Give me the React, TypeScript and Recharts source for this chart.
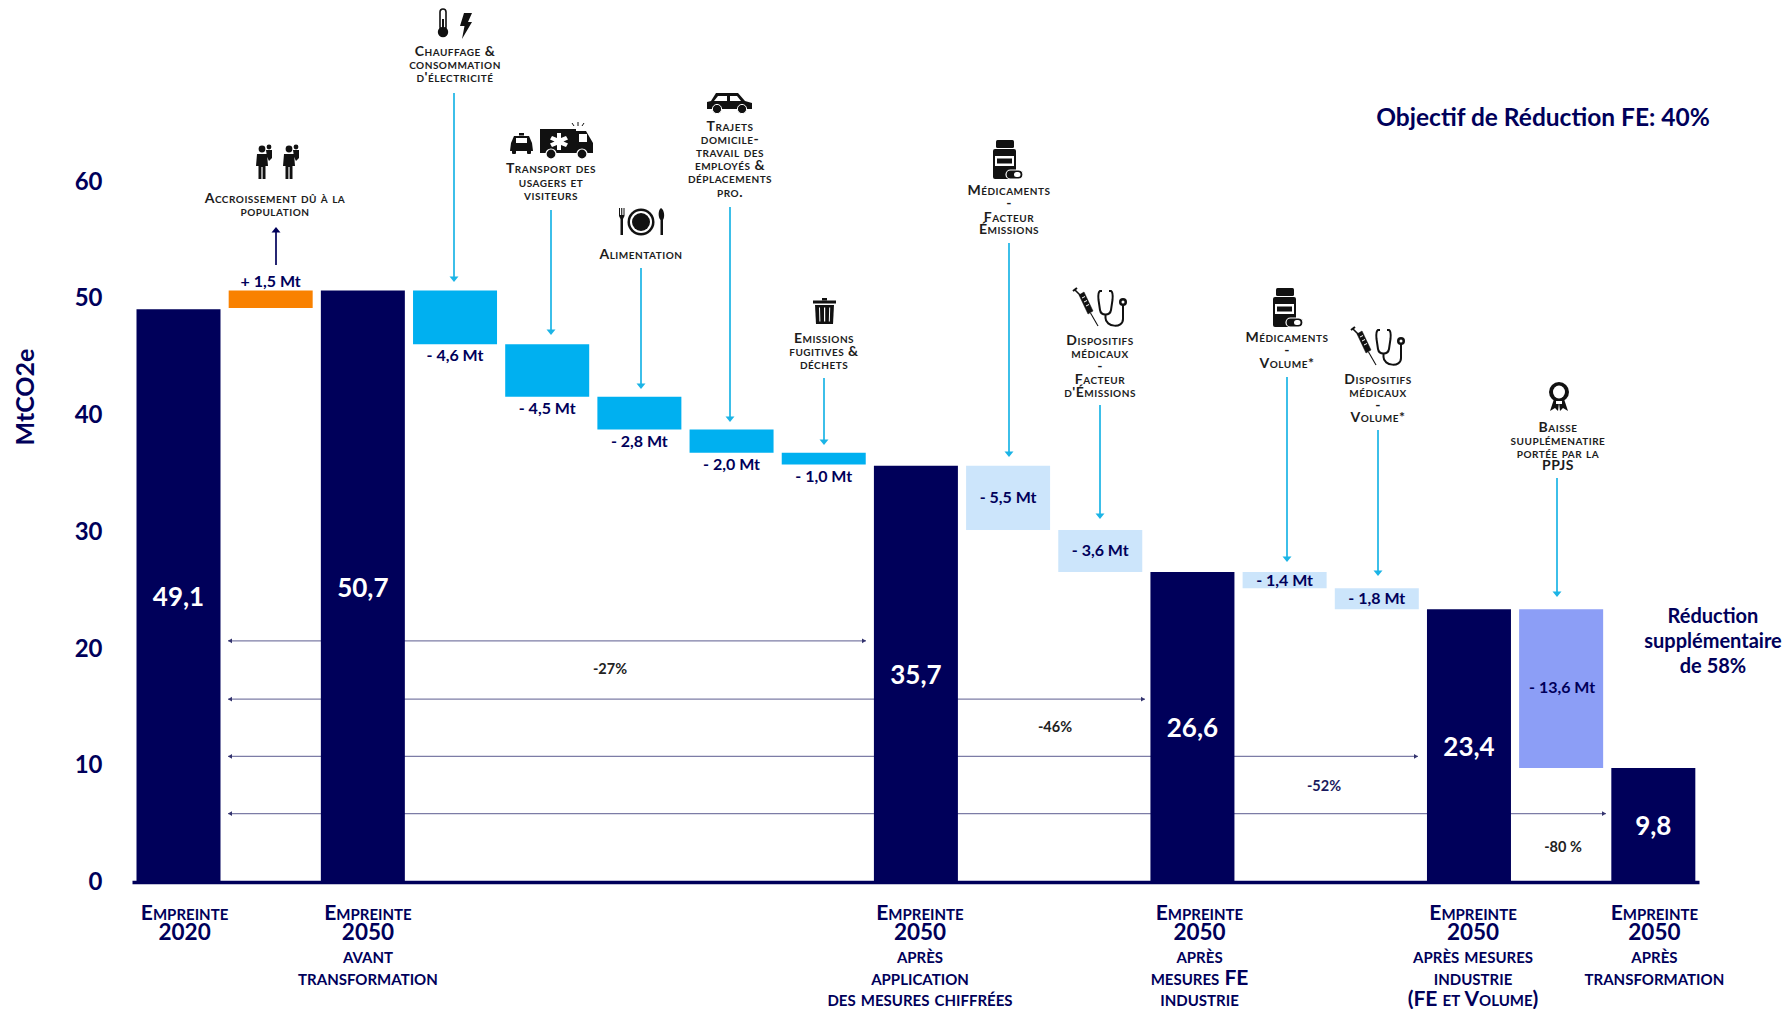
import React from "react";
import { BarChart, Bar, XAxis, YAxis, Cell, LabelList } from "recharts";

// ---------- data ----------
const categories = ["e2020","pop","e2050","chauffage","transport","alim","trajets","dechets","mesures","medFE","dispFE","fe","medVol","dispVol","indus","ppjs","final"];
const barBases = [0, 49.2, 0, 46.1, 41.6, 38.8, 36.8, 35.8, 0, 30.2, 26.6, 0, 25.2, 23.4, 0, 9.8, 0];
const barValues = [49.1, 1.5, 50.7, 4.6, 4.5, 2.8, 2.0, 1.0, 35.7, 5.5, 3.6, 26.6, 1.4, 1.8, 23.4, 13.6, 9.8];
const barLabels = ["49,1","+ 1,5 Mt","50,7","- 4,6 Mt","- 4,5 Mt","- 2,8 Mt","- 2,0 Mt","- 1,0 Mt","35,7","- 5,5 Mt","- 3,6 Mt","26,6","- 1,4 Mt","- 1,8 Mt","23,4","- 13,6 Mt","9,8"];
const barKinds = ["total","up","total","down","down","down","down","down","total","fe","fe","total","fe","fe","total","ppjs","total"];
const yTicks = [0, 10, 20, 30, 40, 50, 60];
const xLabelLines: string[][] = [
  ["Empreinte","2020"],[],["Empreinte","2050","avant","transformation"],[],[],[],[],[],
  ["Empreinte","2050","après","application","des mesures chiffrées"],[],[],
  ["Empreinte","2050","après","mesures FE","industrie"],[],[],
  ["Empreinte","2050","après mesures","industrie","(FE et Volume)"],[],
  ["Empreinte","2050","après","transformation"],
];
const xLabelShift = [6,0,5,0,0,0,0,0,4,0,0,7,0,0,4,0,1];
const spanLabels = ["-27%","-46%","-52%","-80 %"];
const spanLevels = [20.7, 15.7, 10.8, 5.9];
const calloutTexts: string[][] = [
  ["Accroissement dû à la","population"],
  ["Chauffage &","consommation","d'électricité"],
  ["Transport des","usagers et","visiteurs"],
  ["Alimentation"],
  ["Trajets","domicile-","travail des","employés &","déplacements","pro."],
  ["Emissions","fugitives &","déchets"],
  ["Médicaments","-","Facteur","Émissions"],
  ["Dispositifs","médicaux","-","Facteur","d'Émissions"],
  ["Médicaments","-","Volume*"],
  ["Dispositifs","médicaux","-","Volume*"],
  ["Baisse","suuplémenatire","portée par la","PPJS"],
];
const chartTitle = "Objectif de Réduction FE: 40%";
const sideNote = ["Réduction","supplémentaire","de 58%"];
const yTitle = "MtCO2e";

const tableData = categories.map((key, i) => ({ key, base: barBases[i], value: barValues[i], label: barLabels[i] }));

// ---------- style ----------
const NAVY = "#00005A";
const FONT = "Lato, Carlito, sans-serif";
const kindColor: Record<string, string> = { total: NAVY, up: "#F98100", down: "#00B0F0", fe: "#CCE5FB", ppjs: "#8C9EF6" };
const W = 1788, H = 1009, LEFT = 132.5, RIGHT = 1699.5, TOP = 182, BOTTOM = 882.5;
const py = (v: number) => BOTTOM - (v / 60) * (BOTTOM - TOP);

// callout layout: text centre x, text line y's, arrow x, arrow y start/end
const calloutLayout = [
  { x: 275, ys: [198, 211], ax: 276, a0: 265, a1: 227, color: NAVY },
  { x: 455, ys: [51, 64, 77], ax: 454, a0: 93, a1: 282 },
  { x: 551, ys: [168, 182, 195], ax: 551, a0: 210, a1: 335 },
  { x: 641, ys: [254], ax: 641, a0: 268, a1: 389 },
  { x: 730, ys: [126, 139, 152, 165, 178, 192], ax: 730, a0: 207, a1: 422 },
  { x: 824, ys: [338, 351, 364], ax: 824, a0: 378, a1: 445 },
  { x: 1009, ys: [190, 203, 217, 229], ax: 1009, a0: 243, a1: 457 },
  { x: 1100, ys: [340, 353, 366, 379, 392], ax: 1100, a0: 405, a1: 519 },
  { x: 1287, ys: [337, 350, 363], ax: 1287, a0: 377, a1: 562 },
  { x: 1378, ys: [379, 392, 405, 417], ax: 1378, a0: 430, a1: 576 },
  { x: 1558, ys: [427, 440, 453, 465], ax: 1557, a0: 478, a1: 597 },
];
const spanLayout = [
  { x0: 228, x1: 866, lx: 610, ly: 668 },
  { x0: 228, x1: 1145, lx: 1055, ly: 726 },
  { x0: 228, x1: 1418, lx: 1324, ly: 785 },
  { x0: 228, x1: 1606, lx: 1563, ly: 846 },
];

// ---------- icons ----------
const K = "#111";
const Person = ({ x, y, flip }: any) => (
  <g transform={`translate(${x},${y}) scale(${flip ? -1 : 1},1)`} fill={K}>
    <circle cx={0} cy={5} r={3.4} />
    <path d="M-5 10 L5 10 L6 22 L3.5 22 L3.5 35 L0.6 35 L0.6 23 L-0.6 23 L-0.6 35 L-3.5 35 L-3.5 22 L-6 22 Z" />
    <circle cx={7} cy={3} r={2.4} />
    <path d="M4 6 L10 6 L10 14 L7 17 L5 13 Z" />
  </g>
);
const Thermo = ({ x, y }: any) => (
  <g transform={`translate(${x},${y})`}>
    <rect x={3} y={0} width={6} height={21} rx={3} fill="#fff" stroke={K} strokeWidth={1.6} />
    <circle cx={6} cy={23} r={5.2} fill={K} />
    <rect x={5} y={10} width={2} height={12} fill={K} />
  </g>
);
const Bolt = ({ x, y }: any) => <path transform={`translate(${x},${y})`} d="M5 0 L13 0 L9 9 L13 9 L3 26 L5.5 13 L1 13 Z" fill={K} />;
const Taxi = ({ x, y }: any) => (
  <g transform={`translate(${x},${y})`} fill={K}>
    <rect x={9} y={0} width={5} height={2.5} />
    <path d="M4 3 L19 3 L22 10 L23 18 L0 18 L1 10 Z" />
    <rect x={6} y={5} width={11} height={5} fill="#fff" />
    <rect x={2} y={17} width={4} height={4} rx={1} />
    <rect x={17} y={17} width={4} height={4} rx={1} />
  </g>
);
const Ambulance = ({ x, y }: any) => (
  <g transform={`translate(${x},${y})`} fill={K}>
    <path d="M0 8 L36 8 L36 10 L46 10 L53 22 L53 32 L0 32 Z" />
    <rect x={39} y={13} width={8} height={8} fill="#fff" />
    <path d="M17 12 L21 12 L21 17 L26 15 L28 18.5 L23.5 20.5 L28 22.5 L26 26 L21 24 L21 29 L17 29 L17 24 L12 26 L10 22.5 L14.5 20.5 L10 18.5 L12 15 L17 17 Z" fill="#fff" />
    <circle cx={11} cy={33} r={5} stroke="#fff" strokeWidth={1.2} />
    <circle cx={42} cy={33} r={5} stroke="#fff" strokeWidth={1.2} />
    <path d="M38 5 L38 1 M42 5 L44 2 M34 5 L32 2" stroke={K} strokeWidth={1} />
  </g>
);
const Plate = ({ x, y }: any) => (
  <g transform={`translate(${x},${y})`}>
    <circle cx={23} cy={14} r={13.5} fill={K} />
    <circle cx={23} cy={14} r={11} fill="#fff" />
    <circle cx={23} cy={14} r={9} fill={K} />
    <path d="M1 0 L1 8 L2.5 11 L2.5 27 L5 27 L5 11 L6.5 8 L6.5 0 L5.5 0 L5.5 7 L4.3 7 L4.3 0 L3.2 0 L3.2 7 L2 7 L2 0 Z" fill={K} />
    <path d="M43 0 C46.5 2 47 9 45 12 L45 27 L42.5 27 L42.5 12 C40 9 40 2 43 0 Z" fill={K} />
  </g>
);
const Car = ({ x, y }: any) => (
  <g transform={`translate(${x},${y})`} fill={K}>
    <path d="M9 0 L31 0 L38 8 L45 10 L45 16 L0 16 L0 9 L4 8 Z" />
    <path d="M11 3 L20 3 L20 8 L7 8 Z M23 3 L30 3 L34 8 L23 8 Z" fill="#fff" />
    <circle cx={10} cy={16} r={4.6} stroke="#fff" strokeWidth={1} />
    <circle cx={35} cy={16} r={4.6} stroke="#fff" strokeWidth={1} />
  </g>
);
const Trash = ({ x, y }: any) => (
  <g transform={`translate(${x},${y})`} fill={K}>
    <rect x={9} y={0} width={5} height={2.5} />
    <rect x={0} y={2.5} width={23} height={3} />
    <path d="M2 7 L21 7 L20 26 L3 26 Z" />
    <path d="M6 9.5 L7 9.5 L7.4 23.5 L6.4 23.5 Z M11 9.5 L12.2 9.5 L12.2 23.5 L11 23.5 Z M16.2 9.5 L17.2 9.5 L16.8 23.5 L15.8 23.5 Z" fill="#fff" />
  </g>
);
const Bottle = ({ x, y }: any) => (
  <g transform={`translate(${x},${y})`} fill={K}>
    <rect x={3} y={0} width={18} height={8} rx={1.5} />
    <rect x={0} y={9} width={23} height={30} rx={2} />
    <rect x={2} y={16} width={19} height={10} fill="#fff" />
    <rect x={4} y={18.5} width={15} height={5} fill={K} />
    <rect x={13} y={30} width={17} height={9} rx={4.5} fill={K} stroke="#fff" strokeWidth={1.2} />
    <rect x={21} y={32} width={6.5} height={5} rx={2.5} fill="#fff" />
  </g>
);
const Medical = ({ x, y }: any) => (
  <g transform={`translate(${x},${y})`}>
    <g fill={K} stroke={K}>
      <path d="M0 4 L4 1" strokeWidth={2} />
      <path d="M2 3 L9 10" strokeWidth={1.6} />
      <path d="M6 8 L11 5 L20 24 L15 27 Z" strokeWidth={0.5} />
      <path d="M17.5 26 L25 39" strokeWidth={1.1} />
    </g>
    <path d="M9 11 L12 9.5 M11 15 L14 13.5 M13 19 L16 17.5" stroke="#fff" strokeWidth={1} />
    <g fill="none" stroke={K} strokeWidth={2}>
      <path d="M29 4 L27 4 C25 5 25 8 25.5 13 L27 23 C28 29 37 29 38 23 L39.5 13 C40 8 40 5 38 4 L36 4" />
      <path d="M32.5 27 L32.5 31 C32.5 40 50 42 50 32 L50 18" />
    </g>
    <circle cx={50} cy={15} r={4} fill={K} />
    <circle cx={50} cy={15} r={1.5} fill="#fff" />
  </g>
);
const Ribbon = ({ x, y }: any) => (
  <g transform={`translate(${x},${y})`}>
    <path d="M7 17 L3 29 L8 26 L11 29 L12 21 L13 29 L16 26 L21 29 L17 17 Z" fill={K} />
    <ellipse cx={12} cy={10} rx={10} ry={10} fill={K} />
    <ellipse cx={12} cy={10} rx={6} ry={6.5} fill="#fff" />
    <rect x={9} y={19} width={6} height={3} fill="#fff" />
  </g>
);

// ---------- helpers ----------
const sc: React.CSSProperties = { fontVariant: "small-caps" };
const Arrow = ({ x, y0, y1, color = "#1BB4E6" }: any) => {
  const dir = y1 > y0 ? 1 : -1;
  return (
    <g>
      <line x1={x} x2={x} y1={y0} y2={y1 - dir * 4} stroke={color} strokeWidth={1.7} />
      <polygon points={`${x - 4.5},${y1 - dir * 5.5} ${x + 4.5},${y1 - dir * 5.5} ${x},${y1}`} fill={color} />
    </g>
  );
};

const XTick = ({ x, y, payload, index }: any) => {
  const i = payload?.index ?? index;
  const lines = xLabelLines[i] || [];
  const cx = x + xLabelShift[i];
  const ys = [911.5, 931.5, 954.5, 976.5, 997.5];
  return (
    <g fontFamily={FONT} fontWeight={700} fill={NAVY} textAnchor="middle">
      {lines.map((t, k) => (
        <text key={k} x={cx} y={ys[k]} dominantBaseline="central" fontSize={k === 1 ? 22.5 : 21} style={k === 1 ? undefined : sc}>{t}</text>
      ))}
    </g>
  );
};

const BarLabel = ({ x, y, width, height, index, value }: any) => {
  const kind = barKinds[index];
  const cx = x + width / 2;
  if (kind === "total") return <text x={cx} y={y + height / 2} textAnchor="middle" dominantBaseline="central" fontFamily={FONT} fontWeight={700} fontSize={26} fill="#fff">{value}</text>;
  let ty = y + height / 2 - 1, tx = cx;
  if (kind === "up") { ty = y - 10.5; tx = cx; }
  if (kind === "down") ty = y + height + 10.5;
  if (kind === "ppjs") { tx = cx + 1; ty = y + height / 2 - 2; }
  return <text x={tx} y={ty} textAnchor="middle" dominantBaseline="central" fontFamily={FONT} fontWeight={700} fontSize={16} fill={NAVY}>{value}</text>;
};

const SpanLine = ({ x0, x1, y }: any) => (
  <g>
    <line x1={x0} x2={x1} y1={y} y2={y} stroke="#7C7CA6" strokeWidth={1.3} />
    <polygon points={`${x0},${y} ${x0 + 4},${y - 2.4} ${x0 + 4},${y + 2.4}`} fill="#33336E" />
    <polygon points={`${x1},${y} ${x1 - 4},${y - 2.4} ${x1 - 4},${y + 2.4}`} fill="#33336E" />
  </g>
);

export default function App() {
  return (
    <div style={{ position: "absolute", left: 0, top: 0, width: W, height: H, background: "#fff", overflow: "hidden" }}>
      {/* layer beneath the bars: span arrows */}
      <svg width={W} height={H} style={{ position: "absolute", left: 0, top: 0 }}>
        {spanLevels.map((v, i) => <SpanLine key={i} x0={spanLayout[i].x0} x1={spanLayout[i].x1} y={py(v)} />)}
      </svg>
      <div style={{ position: "absolute", left: 0, top: 0 }}>
        <BarChart width={W} height={H} data={tableData} margin={{ top: TOP, right: W - RIGHT, left: LEFT - 60, bottom: 0 }} barSize={84}>
          <XAxis dataKey="key" interval={0} height={H - BOTTOM} tick={<XTick />} tickLine={false} axisLine={{ stroke: NAVY, strokeWidth: 3.5 }} />
          <YAxis type="number" width={60} domain={[0, 60]} ticks={yTicks} tickLine={false} axisLine={false} tickMargin={24}
            tick={{ fill: NAVY, fontFamily: FONT, fontWeight: 700, fontSize: 24, dy: -1 }} />
          <Bar dataKey="base" stackId="w" fill="none" isAnimationActive={false} />
          <Bar dataKey="value" stackId="w" isAnimationActive={false}>
            {tableData.map((d, i) => <Cell key={d.key} fill={kindColor[barKinds[i]]} />)}
            <LabelList dataKey="label" content={<BarLabel />} />
          </Bar>
        </BarChart>
      </div>
      {/* annotation layer */}
      <svg width={W} height={H} style={{ position: "absolute", left: 0, top: 0, pointerEvents: "none" }}>
        <text x={24} y={397} transform="rotate(-90 24 397)" textAnchor="middle" dominantBaseline="central" fontFamily={FONT} fontWeight={700} fontSize={25} fill={NAVY}>{yTitle}</text>
        <text x={1543} y={116.5} textAnchor="middle" dominantBaseline="central" fontFamily={FONT} fontWeight={700} fontSize={24.5} fill={NAVY}>{chartTitle}</text>
        {sideNote.map((t, i) => (
          <text key={i} x={1713} y={614.5 + i * 25} textAnchor="middle" dominantBaseline="central" fontFamily={FONT} fontWeight={700} fontSize={20} fill={NAVY}>{t}</text>
        ))}
        {spanLabels.map((t, i) => (
          <text key={i} x={spanLayout[i].lx} y={spanLayout[i].ly} textAnchor="middle" dominantBaseline="central" fontFamily={FONT} fontWeight={700} fontSize={14.5} fill={i === 2 ? "#1a1a5e" : "#222"}>{t}</text>
        ))}
        {calloutTexts.map((lines, i) => {
          const c: any = calloutLayout[i];
          return (
            <g key={i}>
              {lines.map((t, k) => (
                <text key={k} x={c.x} y={c.ys[k] - 1} textAnchor="middle" dominantBaseline="central" fontFamily={FONT} fontWeight={700} fontSize={14} letterSpacing={0.5} fill="#1c1c1c" style={sc}>{t}</text>
              ))}
              <Arrow x={c.ax} y0={c.a0} y1={c.a1} color={c.color} />
            </g>
          );
        })}
        <Person x={262} y={144} />
        <Person x={289} y={144} />
        <Thermo x={437} y={9} />
        <Bolt x={459} y={13} />
        <Taxi x={510} y={133} />
        <Ambulance x={540} y={121} />
        <Plate x={618} y={208} />
        <Car x={707} y={93} />
        <Trash x={813} y={298} />
        <Bottle x={993} y={140} />
        <Medical x={1073} y={287} />
        <Bottle x={1273} y={288} />
        <Medical x={1351} y={326} />
        <Ribbon x={1547} y={382} />
      </svg>
    </div>
  );
}
